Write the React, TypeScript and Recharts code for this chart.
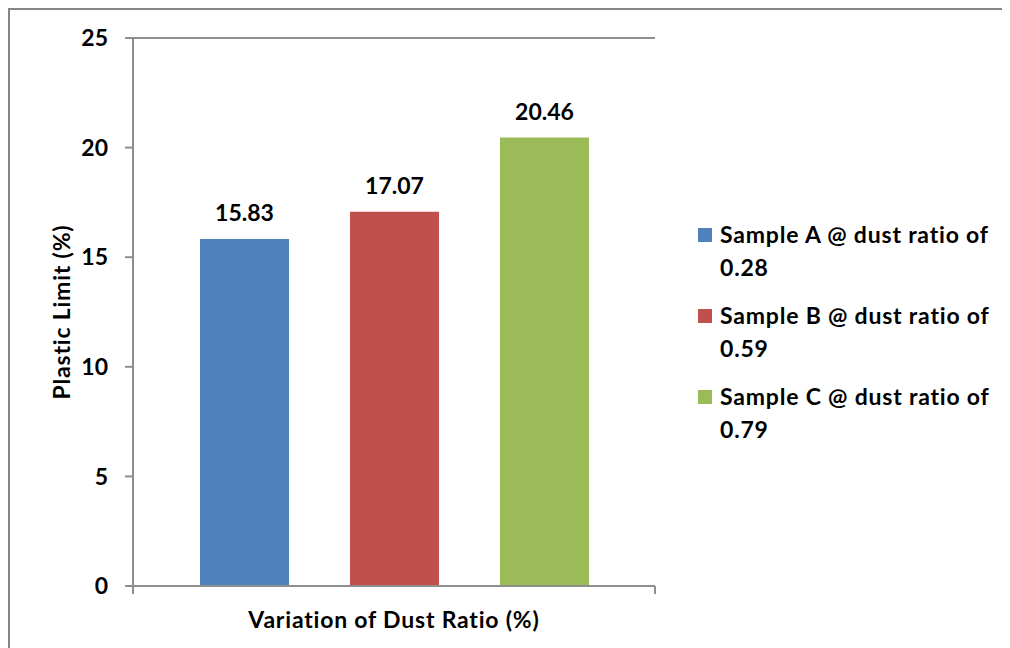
import {
  BarChart, Bar, XAxis, YAxis, CartesianGrid, Legend, LabelList,
} from "recharts";

// plastic limit per sample, one group on the category axis
const groups = [""];
const sampleNames = [
  "Sample A @ dust ratio of 0.28",
  "Sample B @ dust ratio of 0.59",
  "Sample C @ dust ratio of 0.79",
];
const plasticLimit = [15.83, 17.07, 20.46];
const yTicks = [0, 5, 10, 15, 20, 25];

const colors = ["#4f81bd", "#c0504d", "#9bbb59"];
const keys = ["a", "b", "c"];
const font = "Lato, Carlito, 'Open Sans', sans-serif";
const fontSize = 23;
const spacing = 0.8;
const lineColor = "#8e8e8e";

const data = groups.map((name) => {
  const row: any = { name };
  keys.forEach((k, i) => (row[k] = plasticLimit[i]));
  return row;
});

// category axis: Excel-style ticks at the band edges, no text
function EdgeTicks(props: any) {
  const { x, y, payload } = props;
  const half = payload?.offset || 261;
  return (
    <g>
      <line x1={x - half} x2={x - half} y1={y - 8} y2={y} stroke={lineColor} strokeWidth={2} />
      <line x1={x + half} x2={x + half} y1={y - 8} y2={y} stroke={lineColor} strokeWidth={2} />
    </g>
  );
}

function LegendList({ payload }: any) {
  return (
    <div
      style={{
        fontFamily: font, fontWeight: 700, fontSize, letterSpacing: spacing, color: "#000",
      }}
    >
      {(payload || []).map((p: any) => (
        <div key={p.value} style={{ display: "flex", alignItems: "flex-start", marginBottom: 15 }}>
          <span
            style={{
              width: 14, height: 14, background: p.color,
              marginTop: 10, marginRight: 8, flex: "none",
            }}
          />
          <span style={{ width: 285, lineHeight: "33px" }}>{p.value}</span>
        </div>
      ))}
    </div>
  );
}

export default function App() {
  return (
    <div
      style={{
        width: 1000, height: 638, borderTop: "2px solid #868686",
        borderLeft: "2px solid #868686", background: "#fff", fontFamily: font,
      }}
    >
      <BarChart
        width={1000}
        height={638}
        data={data}
        margin={{ top: 28, right: 355, bottom: 0, left: 0 }}
        barSize={89}
        barGap={61}
      >
        <CartesianGrid vertical={false} stroke={lineColor} strokeWidth={2} />
        <XAxis
          dataKey="name"
          height={62}
          tickSize={8}
          tickMargin={0}
          tickLine={false}
          axisLine={{ stroke: lineColor, strokeWidth: 2 }}
          tick={<EdgeTicks />}
          label={({ viewBox }: any) => (
            <text
              x={viewBox.x + viewBox.width / 2}
              y={viewBox.y + 42}
              textAnchor="middle"
              fontFamily={font}
              fontWeight={700}
              fontSize={fontSize}
              letterSpacing={spacing}
              fill="#000"
            >
              Variation of Dust Ratio (%)
            </text>
          )}
        />
        <YAxis
          yAxisId="left"
          width={123}
          domain={[0, 25]}
          ticks={yTicks}
          tickSize={8}
          tickMargin={17}
          axisLine={{ stroke: lineColor, strokeWidth: 2 }}
          tickLine={{ stroke: lineColor, strokeWidth: 2 }}
          tick={{ fontFamily: font, fontWeight: 700, fontSize, fill: "#000" }}
          label={({ viewBox }: any) => {
            const cx = viewBox.x + 51;
            const cy = viewBox.y + viewBox.height / 2;
            return (
              <text
                x={cx}
                y={cy}
                transform={`rotate(-90 ${cx} ${cy})`}
                textAnchor="middle"
                dominantBaseline="central"
                fontFamily={font}
                fontWeight={700}
                fontSize={fontSize}
                letterSpacing={spacing}
                fill="#000"
              >
                Plastic Limit (%)
              </text>
            );
          }}
        />
        <YAxis
          yAxisId="right"
          orientation="right"
          width={0}
          domain={[0, 25]}
          tick={false}
          tickLine={false}
          axisLine={{ stroke: lineColor, strokeWidth: 2 }}
        />
        <Legend
          layout="vertical"
          align="center"
          verticalAlign="middle"
          content={<LegendList />}
          wrapperStyle={{ left: 688, top: 208, width: 310 }}
        />
        {keys.map((k, i) => (
          <Bar
            key={k}
            yAxisId="left"
            dataKey={k}
            name={sampleNames[i]}
            fill={colors[i]}
            isAnimationActive={false}
          >
            <LabelList
              dataKey={k}
              position="top"
              offset={18}
              fontFamily={font}
              fontWeight={700}
              fontSize={fontSize}
              fill="#000"
              formatter={(v: any) => Number(v).toFixed(2)}
            />
          </Bar>
        ))}
      </BarChart>
    </div>
  );
}
